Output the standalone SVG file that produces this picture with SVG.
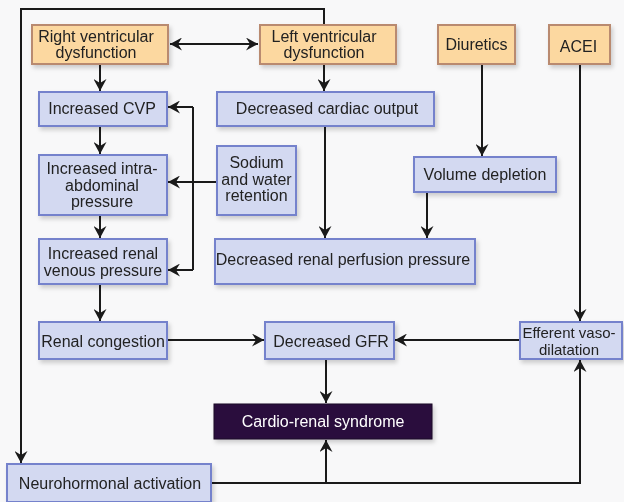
<svg xmlns="http://www.w3.org/2000/svg" width="624" height="502" viewBox="0 0 624 502">
<defs>
<filter id="sh" x="-10%" y="-10%" width="130%" height="140%"><feDropShadow dx="2" dy="3" stdDeviation="2" flood-color="#000" flood-opacity="0.18"/></filter>
<marker id="ah" markerWidth="12" markerHeight="13" refX="12" refY="6.500" orient="auto-start-reverse" markerUnits="userSpaceOnUse"><path d="M0,0 L12,6.500 L0,13 L4,6.500 Z" fill="#1a1a1a"/></marker>
</defs>
<style>
.b{fill:#d3d9f1;stroke:#7482cc;stroke-width:2}
.o{fill:#fcd8a0;stroke:#b98a70;stroke-width:2}
.d{fill:#2a0c3c;stroke:#1a0626;stroke-width:1}
text{font-family:"Liberation Sans",Arial,sans-serif;font-size:16px;fill:#222;text-anchor:middle}
.w{fill:#fff}
.c{fill:none;stroke:#1a1a1a;stroke-width:2}
</style>
<rect width="624" height="502" fill="#f8f8f9"/>
<g id="connectors">
<path class="c" d="M21,463 L21,9 L324,9 L324,25"/>
<path class="c" d="M21,455 L21,463" marker-end="url(#ah)"/>
<path class="c" d="M170,44 L258,44" marker-start="url(#ah)" marker-end="url(#ah)"/>
<path class="c" d="M100,65 L100,91" marker-end="url(#ah)"/>
<path class="c" d="M324,65 L324,91" marker-end="url(#ah)"/>
<path class="c" d="M100,127 L100,154" marker-end="url(#ah)"/>
<path class="c" d="M100,216 L100,238" marker-end="url(#ah)"/>
<path class="c" d="M100,285 L100,321" marker-end="url(#ah)"/>
<path class="c" d="M193,107 L193,270"/>
<path class="c" d="M193,107 L168,107" marker-end="url(#ah)"/>
<path class="c" d="M216,182 L168,182" marker-end="url(#ah)"/>
<path class="c" d="M193,270 L168,270" marker-end="url(#ah)"/>
<path class="c" d="M325,127 L325,238" marker-end="url(#ah)"/>
<path class="c" d="M482,65 L482,156" marker-end="url(#ah)"/>
<path class="c" d="M427,193 L427,238" marker-end="url(#ah)"/>
<path class="c" d="M580,65 L580,321" marker-end="url(#ah)"/>
<path class="c" d="M168,340 L264,340" marker-end="url(#ah)"/>
<path class="c" d="M519,340 L395,340" marker-end="url(#ah)"/>
<path class="c" d="M326,360 L326,403" marker-end="url(#ah)"/>
<path class="c" d="M212,483 L580,483 L580,360" marker-end="url(#ah)"/>
<path class="c" d="M326,483 L326,440" marker-end="url(#ah)"/>
</g>
<g id="rv" filter="url(#sh)"><rect class="o" x="32" y="25" width="136" height="39"/><text x="96" y="42">Right ventricular</text><text x="96" y="58">dysfunction</text></g>
<g id="lv" filter="url(#sh)"><rect class="o" x="260" y="25" width="136" height="39"/><text x="324" y="42">Left ventricular</text><text x="324" y="58">dysfunction</text></g>
<g id="diuretics" filter="url(#sh)"><rect class="o" x="438" y="25" width="77" height="39"/><text x="476.500" y="50">Diuretics</text></g>
<g id="acei" filter="url(#sh)"><rect class="o" x="549" y="25" width="61" height="39"/><text x="578.500" y="52">ACEI</text></g>
<g id="cvp" filter="url(#sh)"><rect class="b" x="39" y="92" width="128" height="34"/><text x="102" y="114">Increased CVP</text></g>
<g id="cardiac-output" filter="url(#sh)"><rect class="b" x="217" y="92" width="217" height="34"/><text x="327" y="114">Decreased cardiac output</text></g>
<g id="intra-abdominal" filter="url(#sh)"><rect class="b" x="39" y="155" width="128" height="60"/><text x="102" y="174">Increased intra-</text><text x="102" y="191">abdominal</text><text x="102" y="207">pressure</text></g>
<g id="sodium" filter="url(#sh)"><rect class="b" x="217" y="146" width="79" height="69"/><text x="256.500" y="168">Sodium</text><text x="256.500" y="185">and water</text><text x="256.500" y="201">retention</text></g>
<g id="volume-depletion" filter="url(#sh)"><rect class="b" x="414" y="157" width="142" height="35"/><text x="485" y="180">Volume depletion</text></g>
<g id="renal-venous" filter="url(#sh)"><rect class="b" x="39" y="239" width="128" height="45"/><text x="103" y="259">Increased renal</text><text x="103" y="276">venous pressure</text></g>
<g id="renal-perfusion" filter="url(#sh)"><rect class="b" x="215" y="239" width="260" height="45"/><text x="343" y="265">Decreased renal perfusion pressure</text></g>
<g id="renal-congestion" filter="url(#sh)"><rect class="b" x="39" y="322" width="128" height="37"/><text x="103" y="347">Renal congestion</text></g>
<g id="gfr" filter="url(#sh)"><rect class="b" x="265" y="322" width="129" height="37"/><text x="331" y="347">Decreased GFR</text></g>
<g id="efferent" filter="url(#sh)"><rect class="b" x="520" y="322" width="102" height="37"/><text x="569" y="338" style="font-size:15px">Efferent vaso-</text><text x="569" y="355" style="font-size:15px">dilatation</text></g>
<g id="cardio-renal" filter="url(#sh)"><rect class="d" x="214" y="404" width="218" height="35"/><text class="w" x="323" y="427">Cardio-renal syndrome</text></g>
<g id="neurohormonal" filter="url(#sh)"><rect class="b" x="7" y="464" width="204" height="38"/><text x="110" y="489">Neurohormonal activation</text></g>
</svg>
